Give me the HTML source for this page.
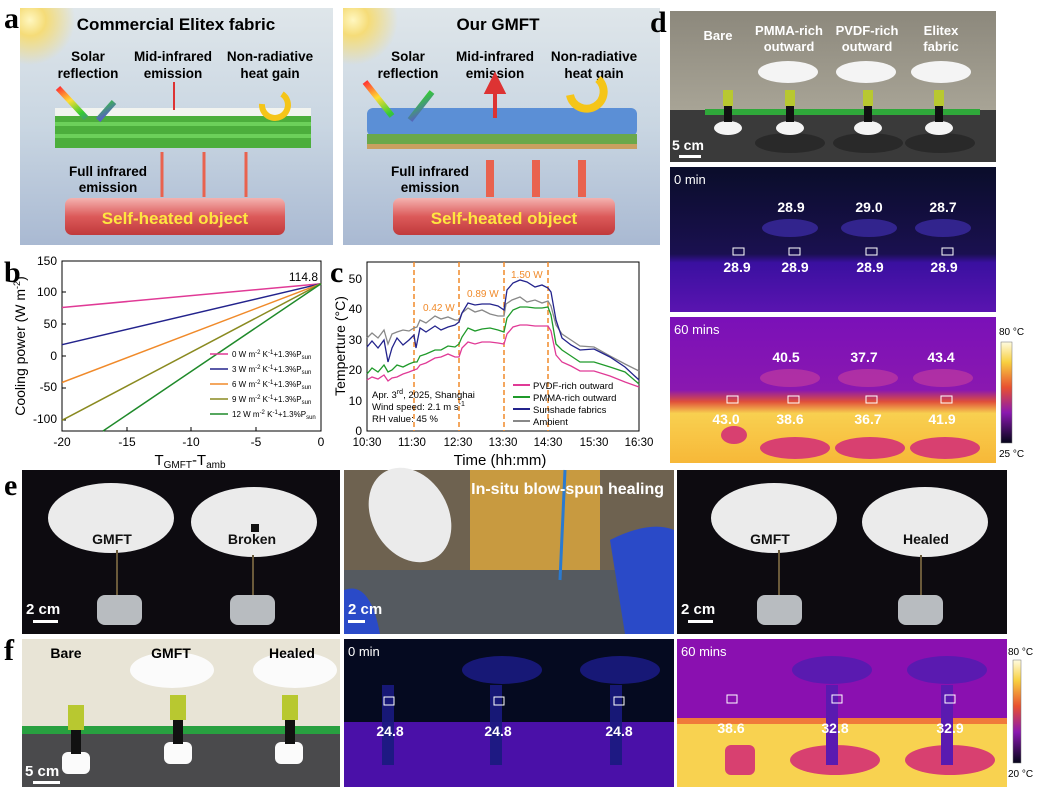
<!DOCTYPE html>
<html><head><meta charset="utf-8"><style>
body{margin:0;background:#fff}
svg text{font-family:"Liberation Sans",Arial,sans-serif}
.pl{font-family:"Liberation Serif",serif;font-weight:bold;font-size:30px}
.w{fill:#fff;font-weight:bold}
</style></head><body>
<svg width="1040" height="795" viewBox="0 0 1040 795" xmlns="http://www.w3.org/2000/svg">
<defs>
<linearGradient id="sky" x1="0" y1="0" x2="0" y2="1"><stop offset="0" stop-color="#dfe6ea"/><stop offset="0.5" stop-color="#c9d6e2"/><stop offset="1" stop-color="#a9b9d2"/></linearGradient>
<radialGradient id="sun" cx="0.5" cy="0.5" r="0.5"><stop offset="0" stop-color="#fff7c0"/><stop offset="0.35" stop-color="#f5dc78"/><stop offset="1" stop-color="#f5dc78" stop-opacity="0"/></radialGradient>
<linearGradient id="red" x1="0" y1="0" x2="0" y2="1"><stop offset="0" stop-color="#f4b3b0"/><stop offset="0.5" stop-color="#dc5a5a"/><stop offset="1" stop-color="#c0393b"/></linearGradient>
<linearGradient id="t0" x1="0" y1="0" x2="0" y2="1"><stop offset="0" stop-color="#0a0d2a"/><stop offset="0.6" stop-color="#1a1050"/><stop offset="0.66" stop-color="#3a10a0"/><stop offset="1" stop-color="#5a14b0"/></linearGradient>
<linearGradient id="t60" x1="0" y1="0" x2="0" y2="1"><stop offset="0" stop-color="#7a10b8"/><stop offset="0.5" stop-color="#8a18b0"/><stop offset="0.58" stop-color="#e0503a"/><stop offset="0.66" stop-color="#f8d050"/><stop offset="1" stop-color="#f7b838"/></linearGradient>
<linearGradient id="cb" x1="0" y1="0" x2="0" y2="1"><stop offset="0" stop-color="#fffbe0"/><stop offset="0.2" stop-color="#f8d040"/><stop offset="0.45" stop-color="#e85030"/><stop offset="0.7" stop-color="#8a18b0"/><stop offset="1" stop-color="#05051a"/></linearGradient>
<linearGradient id="rb" x1="0" y1="0" x2="1" y2="1"><stop offset="0" stop-color="#f33"/><stop offset=".3" stop-color="#fd3"/><stop offset=".6" stop-color="#3c3"/><stop offset="1" stop-color="#63f"/></linearGradient>
<linearGradient id="wall" x1="0" y1="0" x2="0" y2="1"><stop offset="0" stop-color="#8c887c"/><stop offset="1" stop-color="#a8a496"/></linearGradient>
<clipPath id="ca"><rect x="20" y="8" width="313" height="237"/></clipPath>
<clipPath id="cb2"><rect x="343" y="8" width="317" height="237"/></clipPath>
</defs>

<!-- Panel a -->
<text class="pl" x="4" y="28">a</text>
<g>
<rect x="20" y="8" width="313" height="237" fill="url(#sky)"/>
<circle cx="30" cy="20" r="45" fill="url(#sun)" clip-path="url(#ca)"/>
<text x="176" y="30" font-size="17" font-weight="bold" text-anchor="middle">Commercial Elitex fabric</text>
<g font-size="13.5" font-weight="bold" text-anchor="middle">
<text x="88" y="61">Solar</text><text x="88" y="78">reflection</text>
<text x="173" y="61">Mid-infrared</text><text x="173" y="78">emission</text>
<text x="270" y="61">Non-radiative</text><text x="270" y="78">heat gain</text>
<text x="108" y="176">Full infrared</text><text x="108" y="192">emission</text>
</g>
<rect x="55" y="112" width="256" height="36" fill="#4cae3c"/>
<rect x="55" y="108" width="256" height="8" fill="#f2f4f0"/>
<g fill="#6cd05a"><rect x="55" y="122" width="256" height="4"/><rect x="55" y="134" width="256" height="4"/></g>
<path d="M58 88 L86 118 M98 120 L114 102" stroke="url(#rb)" stroke-width="6" fill="none"/>
<line x1="174" y1="110" x2="174" y2="82" stroke="#d33" stroke-width="2"/>
<path d="M262 104 a13 13 0 1 0 20 -10" stroke="#f5c518" stroke-width="6" fill="none"/>
<g stroke="#e9624e" stroke-width="3"><line x1="162" y1="197" x2="162" y2="152"/><line x1="204" y1="197" x2="204" y2="152"/><line x1="246" y1="197" x2="246" y2="152"/></g>
<rect x="65" y="198" width="220" height="37" rx="7" fill="url(#red)"/>
<text x="175" y="224" font-size="17" font-weight="bold" fill="#ffe640" text-anchor="middle">Self-heated object</text>
</g>
<g>
<rect x="343" y="8" width="317" height="237" fill="url(#sky)"/>
<circle cx="353" cy="20" r="45" fill="url(#sun)" clip-path="url(#cb2)"/>
<text x="498" y="30" font-size="17" font-weight="bold" text-anchor="middle">Our GMFT</text>
<g font-size="13.5" font-weight="bold" text-anchor="middle">
<text x="408" y="61">Solar</text><text x="408" y="78">reflection</text>
<text x="495" y="61">Mid-infrared</text><text x="495" y="78">emission</text>
<text x="594" y="61">Non-radiative</text><text x="594" y="78">heat gain</text>
<text x="430" y="176">Full infrared</text><text x="430" y="192">emission</text>
</g>
<rect x="367" y="108" width="270" height="28" rx="6" fill="#5b8fd6"/>
<rect x="367" y="134" width="270" height="12" fill="#6aa84a"/>
<rect x="367" y="144" width="270" height="5" fill="#c9a060"/>
<path d="M365 82 L392 116 M410 120 L432 92" stroke="url(#rb)" stroke-width="6" fill="none"/>
<path d="M495 118 L495 92 M487 92 L495 76 L503 92 Z" stroke="#d33" stroke-width="4" fill="#d33"/>
<path d="M570 95 a17 17 0 1 0 28 -16" stroke="#f5c518" stroke-width="8" fill="none"/>
<g stroke="#e9624e" stroke-width="8"><line x1="490" y1="197" x2="490" y2="160"/><line x1="536" y1="197" x2="536" y2="160"/><line x1="582" y1="197" x2="582" y2="160"/></g>
<rect x="393" y="198" width="222" height="37" rx="7" fill="url(#red)"/>
<text x="504" y="224" font-size="17" font-weight="bold" fill="#ffe640" text-anchor="middle">Self-heated object</text>
</g>

<!-- Panel b -->
<text class="pl" x="4" y="282">b</text>
<rect x="62" y="261" width="259" height="170" fill="none" stroke="#000" stroke-width="1"/>
<g font-size="12" text-anchor="end">
<text x="57" y="265">150</text><text x="57" y="296">100</text><text x="57" y="328">50</text><text x="57" y="360">0</text><text x="57" y="391">-50</text><text x="57" y="423">-100</text>
</g>
<g stroke="#000"><line x1="62" y1="292" x2="66" y2="292"/><line x1="62" y1="324" x2="66" y2="324"/><line x1="62" y1="356" x2="66" y2="356"/><line x1="62" y1="388" x2="66" y2="388"/><line x1="62" y1="420" x2="66" y2="420"/>
<line x1="127" y1="431" x2="127" y2="427"/><line x1="191" y1="431" x2="191" y2="427"/><line x1="256" y1="431" x2="256" y2="427"/></g>
<g font-size="12" text-anchor="middle"><text x="62" y="446">-20</text><text x="127" y="446">-15</text><text x="191" y="446">-10</text><text x="256" y="446">-5</text><text x="321" y="446">0</text></g>
<text x="190" y="465" font-size="15" text-anchor="middle">T<tspan font-size="10" dy="3">GMFT</tspan><tspan dy="-3">-T</tspan><tspan font-size="10" dy="3">amb</tspan></text>
<text transform="translate(25,346) rotate(-90)" font-size="14" text-anchor="middle">Cooling power (W m<tspan font-size="9" dy="-5">-2</tspan><tspan dy="5">)</tspan></text>
<text x="318" y="281" font-size="12" text-anchor="end">114.8</text>
<g stroke-width="1.5" fill="none">
<line x1="62" y1="307.5" x2="321" y2="283.7" stroke="#e03a96"/>
<line x1="62" y1="344.7" x2="321" y2="283.7" stroke="#23238c"/>
<line x1="62" y1="382.5" x2="321" y2="283.7" stroke="#f08a2a"/>
<line x1="62" y1="420.3" x2="321" y2="283.7" stroke="#8a8a20"/>
<line x1="103" y1="431" x2="321" y2="283.7" stroke="#1f8a2a"/>
</g>
<g font-size="8">
<line x1="210" y1="354" x2="228" y2="354" stroke="#e03a96" stroke-width="1.5"/><text x="232" y="357">0 W m<tspan font-size="6" dy="-3">-2</tspan><tspan dy="3"> K</tspan><tspan font-size="6" dy="-3">-1</tspan><tspan dy="3">+1.3%P</tspan><tspan font-size="6" dy="2">sun</tspan></text>
<line x1="210" y1="369" x2="228" y2="369" stroke="#23238c" stroke-width="1.5"/><text x="232" y="372">3 W m<tspan font-size="6" dy="-3">-2</tspan><tspan dy="3"> K</tspan><tspan font-size="6" dy="-3">-1</tspan><tspan dy="3">+1.3%P</tspan><tspan font-size="6" dy="2">sun</tspan></text>
<line x1="210" y1="384" x2="228" y2="384" stroke="#f08a2a" stroke-width="1.5"/><text x="232" y="387">6 W m<tspan font-size="6" dy="-3">-2</tspan><tspan dy="3"> K</tspan><tspan font-size="6" dy="-3">-1</tspan><tspan dy="3">+1.3%P</tspan><tspan font-size="6" dy="2">sun</tspan></text>
<line x1="210" y1="399" x2="228" y2="399" stroke="#8a8a20" stroke-width="1.5"/><text x="232" y="402">9 W m<tspan font-size="6" dy="-3">-2</tspan><tspan dy="3"> K</tspan><tspan font-size="6" dy="-3">-1</tspan><tspan dy="3">+1.3%P</tspan><tspan font-size="6" dy="2">sun</tspan></text>
<line x1="210" y1="414" x2="228" y2="414" stroke="#1f8a2a" stroke-width="1.5"/><text x="232" y="417">12 W m<tspan font-size="6" dy="-3">-2</tspan><tspan dy="3"> K</tspan><tspan font-size="6" dy="-3">-1</tspan><tspan dy="3">+1.3%P</tspan><tspan font-size="6" dy="2">sun</tspan></text>
</g>

<!-- Panel c -->
<text class="pl" x="330" y="282">c</text>
<rect x="367" y="262" width="272" height="169" fill="none" stroke="#000"/>
<g font-size="12" text-anchor="end"><text x="362" y="283">50</text><text x="362" y="313">40</text><text x="362" y="344">30</text><text x="362" y="374">20</text><text x="362" y="405">10</text><text x="362" y="435">0</text></g>
<g font-size="11.5" text-anchor="middle"><text x="367" y="446">10:30</text><text x="412" y="446">11:30</text><text x="458" y="446">12:30</text><text x="503" y="446">13:30</text><text x="548" y="446">14:30</text><text x="594" y="446">15:30</text><text x="639" y="446">16:30</text></g>
<text x="500" y="465" font-size="15" text-anchor="middle">Time (hh:mm)</text>
<text transform="translate(345,346) rotate(-90)" font-size="14" text-anchor="middle">Temperture (°C)</text>
<g stroke="#f08a2a" stroke-width="1.5" stroke-dasharray="5,3"><line x1="414" y1="262" x2="414" y2="431"/><line x1="459" y1="262" x2="459" y2="431"/><line x1="504" y1="262" x2="504" y2="431"/><line x1="548" y1="262" x2="548" y2="431"/></g>
<g font-size="10" fill="#f08a2a"><text x="423" y="311">0.42 W</text><text x="467" y="297">0.89 W</text><text x="511" y="278">1.50 W</text></g>
<g fill="none" stroke-width="1.3">
<polyline stroke="#888" points="367,338 372,333 378,338 384,330 388,344 392,334 397,332 403,330 409,331 414,328 417,327 420,320 426,323 435,316 441,319 448,317 455,320 459,320 462,313 468,308 475,312 482,310 490,314 498,316 504,316 506,304 512,300 520,297 527,302 535,300 542,303 548,301 551,306 556,325 562,334 571,340 580,346 594,347 610,356 625,364 639,371"/>
<polyline stroke="#23238c" points="367,347 372,341 378,348 384,340 388,362 392,348 397,338 403,345 409,340 414,335 416,348 420,328 426,332 435,326 441,330 448,327 455,325 459,322 462,313 468,303 475,305 482,304 490,304 498,306 504,310 507,290 513,283 520,280 527,282 535,287 542,285 548,288 551,292 556,320 562,338 571,345 580,350 594,349 610,357 625,367 639,380"/>
<polyline stroke="#1f9a2a" points="367,374 372,368 378,372 384,365 388,372 392,370 397,365 403,367 409,364 414,362 417,362 420,356 426,354 435,350 441,350 448,346 455,347 459,344 462,337 468,328 475,331 482,329 490,328 498,330 504,332 507,318 513,310 520,307 527,307 535,308 542,308 548,307 551,315 556,344 562,350 571,356 580,362 594,362 610,367 625,372 639,384"/>
<polyline stroke="#e03a96" points="367,380 372,377 378,379 384,375 388,381 392,378 397,377 403,374 409,372 414,370 417,369 420,365 426,363 435,358 441,357 448,354 455,357 459,357 462,348 468,342 475,344 482,342 490,342 498,343 504,344 507,334 513,327 520,325 527,325 535,326 542,326 548,326 551,331 556,355 562,362 571,366 580,371 594,371 610,376 625,382 639,387"/>
</g>
<g font-size="9.5">
<text x="372" y="398">Apr. 3<tspan font-size="7" dy="-4">rd</tspan><tspan dy="4">, 2025, Shanghai</tspan></text>
<text x="372" y="410">Wind speed: 2.1 m s<tspan font-size="7" dy="-4">-1</tspan></text>
<text x="372" y="422">RH value: 45 %</text>
<line x1="513" y1="385" x2="530" y2="385" stroke="#e03a96" stroke-width="2"/><text x="533" y="389">PVDF-rich outward</text>
<line x1="513" y1="397" x2="530" y2="397" stroke="#1f9a2a" stroke-width="2"/><text x="533" y="401">PMMA-rich outward</text>
<line x1="513" y1="409" x2="530" y2="409" stroke="#23238c" stroke-width="2"/><text x="533" y="413">Sunshade fabrics</text>
<line x1="513" y1="421" x2="530" y2="421" stroke="#888" stroke-width="2"/><text x="533" y="425">Ambient</text>
</g>

<!-- Panel d -->
<text class="pl" x="650" y="32">d</text>
<rect x="670" y="11" width="326" height="100" fill="url(#wall)"/>
<polygon points="670,110 996,110 996,162 670,162" fill="#3a3a3a"/>
<polygon points="705,109 980,109 980,115 705,115" fill="#2fa83a"/>
<g fill="#222" opacity="0.7"><ellipse cx="790" cy="143" rx="35" ry="10"/><ellipse cx="868" cy="143" rx="35" ry="10"/><ellipse cx="940" cy="143" rx="35" ry="10"/></g>
<g fill="#f4f4f4"><ellipse cx="788" cy="72" rx="30" ry="11"/><ellipse cx="866" cy="72" rx="30" ry="11"/><ellipse cx="941" cy="72" rx="30" ry="11"/>
<ellipse cx="728" cy="128" rx="14" ry="7"/><ellipse cx="790" cy="128" rx="14" ry="7"/><ellipse cx="868" cy="128" rx="14" ry="7"/><ellipse cx="939" cy="128" rx="14" ry="7"/></g>
<g fill="#b8c830"><rect x="723" y="90" width="10" height="16"/><rect x="785" y="90" width="10" height="16"/><rect x="863" y="90" width="10" height="16"/><rect x="934" y="90" width="10" height="16"/></g>
<g fill="#111"><rect x="724" y="106" width="8" height="16"/><rect x="786" y="106" width="8" height="16"/><rect x="864" y="106" width="8" height="16"/><rect x="935" y="106" width="8" height="16"/></g>
<g class="w" font-size="13" text-anchor="middle"><text x="718" y="40">Bare</text><text x="789" y="35">PMMA-rich</text><text x="789" y="51">outward</text><text x="867" y="35">PVDF-rich</text><text x="867" y="51">outward</text><text x="941" y="35">Elitex</text><text x="941" y="51">fabric</text></g>
<text class="w" x="672" y="150" font-size="14">5 cm</text><rect x="679" y="155" width="22" height="3" fill="#fff"/>

<rect x="670" y="167" width="326" height="145" fill="url(#t0)"/>
<g fill="#3a2aa0" opacity="0.8"><ellipse cx="790" cy="228" rx="28" ry="9"/><ellipse cx="869" cy="228" rx="28" ry="9"/><ellipse cx="943" cy="228" rx="28" ry="9"/></g>
<text x="674" y="184" font-size="13" fill="#fff">0 min</text>
<g class="w" font-size="14" text-anchor="middle"><text x="791" y="212">28.9</text><text x="869" y="212">29.0</text><text x="943" y="212">28.7</text>
<text x="737" y="272">28.9</text><text x="795" y="272">28.9</text><text x="870" y="272">28.9</text><text x="944" y="272">28.9</text></g>
<g fill="none" stroke="#fff"><rect x="733" y="248" width="11" height="7"/><rect x="789" y="248" width="11" height="7"/><rect x="866" y="248" width="11" height="7"/><rect x="942" y="248" width="11" height="7"/></g>

<rect x="670" y="317" width="326" height="146" fill="url(#t60)"/>
<g fill="#c03aa0" opacity="0.7"><ellipse cx="790" cy="378" rx="30" ry="9"/><ellipse cx="868" cy="378" rx="30" ry="9"/><ellipse cx="943" cy="378" rx="30" ry="9"/></g>
<g fill="#d84070"><ellipse cx="795" cy="448" rx="35" ry="11"/><ellipse cx="870" cy="448" rx="35" ry="11"/><ellipse cx="945" cy="448" rx="35" ry="11"/><ellipse cx="734" cy="435" rx="13" ry="9"/></g>
<text x="674" y="334" font-size="13" fill="#fff">60 mins</text>
<g class="w" font-size="14" text-anchor="middle"><text x="786" y="362">40.5</text><text x="864" y="362">37.7</text><text x="941" y="362">43.4</text>
<text x="726" y="424">43.0</text><text x="790" y="424">38.6</text><text x="868" y="424">36.7</text><text x="942" y="424">41.9</text></g>
<g fill="none" stroke="#fff"><rect x="727" y="396" width="11" height="7"/><rect x="788" y="396" width="11" height="7"/><rect x="866" y="396" width="11" height="7"/><rect x="941" y="396" width="11" height="7"/></g>
<rect x="1001" y="342" width="11" height="101" fill="url(#cb)" stroke="#777" stroke-width="0.5"/>
<text x="999" y="335" font-size="10">80 °C</text><text x="999" y="457" font-size="10">25 °C</text>

<!-- Panel e -->
<text class="pl" x="4" y="495">e</text>
<rect x="22" y="470" width="318" height="164" fill="#0d0b10"/>
<rect x="344" y="470" width="330" height="164" fill="#6e6250"/>
<rect x="470" y="470" width="130" height="120" fill="#c89a40"/>
<rect x="344" y="570" width="330" height="64" fill="#555a60"/>
<rect x="677" y="470" width="330" height="164" fill="#0d0b10"/>
<g fill="#ebebeb">
<ellipse cx="111" cy="518" rx="63" ry="35"/><ellipse cx="254" cy="522" rx="63" ry="35"/>
<ellipse cx="774" cy="518" rx="63" ry="35"/><ellipse cx="925" cy="522" rx="63" ry="35"/>
<ellipse cx="410" cy="515" rx="38" ry="50" transform="rotate(-30 410 515)"/>
</g>
<rect x="251" y="524" width="8" height="8" fill="#111"/>
<g stroke="#6a5a3a" stroke-width="2"><line x1="117" y1="550" x2="117" y2="600"/><line x1="253" y1="555" x2="253" y2="600"/><line x1="779" y1="550" x2="779" y2="600"/><line x1="921" y1="555" x2="921" y2="600"/></g>
<g fill="#b8bcc0"><rect x="97" y="595" width="45" height="30" rx="8"/><rect x="230" y="595" width="45" height="30" rx="8"/><rect x="757" y="595" width="45" height="30" rx="8"/><rect x="898" y="595" width="45" height="30" rx="8"/></g>
<path d="M344 590 Q370 580 380 634 L344 634Z M610 540 Q650 520 674 530 L674 634 L625 634Z" fill="#2a4ac8"/>
<line x1="565" y1="470" x2="560" y2="580" stroke="#2a7ad0" stroke-width="3"/>
<g font-size="14" font-weight="bold" fill="#111" text-anchor="middle"><text x="112" y="544">GMFT</text><text x="252" y="544">Broken</text><text x="770" y="544">GMFT</text><text x="926" y="544">Healed</text></g>
<text class="w" x="664" y="494" font-size="16" text-anchor="end">In-situ blow-spun healing</text>
<g class="w" font-size="15"><text x="26" y="614">2 cm</text><text x="348" y="614">2 cm</text><text x="681" y="614">2 cm</text></g>
<g fill="#fff"><rect x="33" y="620" width="25" height="3"/><rect x="348" y="620" width="17" height="3"/><rect x="688" y="620" width="25" height="3"/></g>

<!-- Panel f -->
<text class="pl" x="4" y="660">f</text>
<rect x="22" y="639" width="318" height="148" fill="#e8e4d6"/>
<rect x="22" y="726" width="318" height="8" fill="#28a040"/>
<rect x="22" y="734" width="318" height="53" fill="#4a4a4c"/>
<g fill="#fbfbfb"><ellipse cx="172" cy="670" rx="42" ry="18"/><ellipse cx="295" cy="670" rx="42" ry="18"/>
<rect x="62" y="752" width="28" height="22" rx="6"/><rect x="164" y="742" width="28" height="22" rx="6"/><rect x="275" y="742" width="28" height="22" rx="6"/></g>
<g fill="#b8c830"><rect x="68" y="705" width="16" height="25"/><rect x="170" y="695" width="16" height="25"/><rect x="282" y="695" width="16" height="25"/></g>
<g fill="#111"><rect x="71" y="730" width="10" height="24"/><rect x="173" y="720" width="10" height="24"/><rect x="285" y="720" width="10" height="24"/></g>
<g font-size="14" font-weight="bold" text-anchor="middle"><text x="66" y="658">Bare</text><text x="171" y="658">GMFT</text><text x="292" y="658">Healed</text></g>
<text class="w" x="25" y="776" font-size="15">5 cm</text><rect x="33" y="781" width="27" height="3" fill="#fff"/>

<rect x="344" y="639" width="330" height="148" fill="#050a20"/>
<rect x="344" y="722" width="330" height="65" fill="#4a10a8"/>
<g fill="#1a1a80" opacity="0.9"><ellipse cx="502" cy="670" rx="40" ry="14"/><ellipse cx="620" cy="670" rx="40" ry="14"/><rect x="382" y="685" width="12" height="80"/><rect x="490" y="685" width="12" height="80"/><rect x="610" y="685" width="12" height="80"/></g>
<text x="348" y="656" font-size="13" fill="#fff">0 min</text>
<g class="w" font-size="14" text-anchor="middle"><text x="390" y="736">24.8</text><text x="498" y="736">24.8</text><text x="619" y="736">24.8</text></g>
<g fill="none" stroke="#fff"><rect x="384" y="697" width="10" height="8"/><rect x="494" y="697" width="10" height="8"/><rect x="614" y="697" width="10" height="8"/></g>

<rect x="677" y="639" width="330" height="148" fill="#8a10b0"/>
<rect x="677" y="722" width="330" height="65" fill="#f8d250"/>
<rect x="677" y="718" width="330" height="6" fill="#f07a3a"/>
<g fill="#d84070"><ellipse cx="835" cy="760" rx="45" ry="15"/><ellipse cx="950" cy="760" rx="45" ry="15"/><rect x="725" y="745" width="30" height="30" rx="6"/></g>
<g fill="#5a1ab0"><ellipse cx="832" cy="670" rx="40" ry="14"/><ellipse cx="947" cy="670" rx="40" ry="14"/><rect x="826" y="685" width="12" height="80"/><rect x="941" y="685" width="12" height="80"/></g>
<text x="681" y="656" font-size="13" fill="#fff">60 mins</text>
<g class="w" font-size="14" text-anchor="middle"><text x="731" y="733">38.6</text><text x="835" y="733">32.8</text><text x="950" y="733">32.9</text></g>
<g fill="none" stroke="#fff"><rect x="727" y="695" width="10" height="8"/><rect x="832" y="695" width="10" height="8"/><rect x="945" y="695" width="10" height="8"/></g>
<rect x="1013" y="660" width="8" height="103" fill="url(#cb)" stroke="#777" stroke-width="0.5"/>
<text x="1008" y="655" font-size="10">80 °C</text><text x="1008" y="777" font-size="10">20 °C</text>
</svg>
</body></html>
